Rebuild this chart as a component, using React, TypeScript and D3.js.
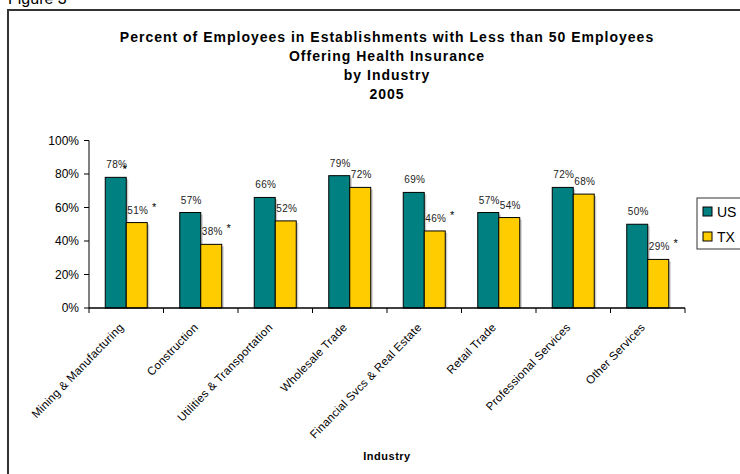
import React from "react";
import * as d3 from "d3";

const categories = [
  "Mining & Manufacturing",
  "Construction",
  "Utilities & Transportation",
  "Wholesale Trade",
  "Financial Svcs & Real Estate",
  "Retail Trade",
  "Professional Services",
  "Other Services",
];
const usValues = [78, 57, 66, 79, 69, 57, 72, 50];
const txValues = [51, 38, 52, 72, 46, 54, 68, 29];
const usStar = [true, false, false, false, false, false, false, false];
const txStar = [true, true, false, false, true, false, false, true];
const yTicks = [0, 20, 40, 60, 80, 100];
const titleLines = [
  "Percent of Employees in Establishments with Less than 50 Employees",
  "Offering Health Insurance",
  "by Industry",
  "2005",
];
const seriesNames = ["US", "TX"];
const colors = ["#008080", "#FFCC00"];

export default function App() {
  const W = 740, H = 474;
  const left = 89, right = 685, top = 140.5, bottom = 308;
  const x = d3.scaleBand<string>().domain(categories).range([left, right]).paddingInner(0).paddingOuter(0);
  const y = d3.scaleLinear().domain([0, 100]).range([bottom, top]);
  const bw = x.bandwidth();
  const barW = 21;
  const font = "'Liberation Sans', Arial, sans-serif";
  const series = [usValues, txValues];
  const stars = [usStar, txStar];

  return (
    <svg width={W} height={H} style={{ position: "fixed", left: 0, top: 0, background: "#fff" }} fontFamily={font}>
      <rect x={0} y={0} width={W} height={H} fill="#fff" />
      <text x={8} y={4} fontSize={16} fill="#000">Figure 3</text>
      <rect x={8} y={10} width={W} height={H} fill="none" stroke="#333" strokeWidth={2} />
      {titleLines.map((t, i) => (
        <text key={i} x={387} y={42 + i * 19} textAnchor="middle" fontSize={14} letterSpacing={1} fontWeight="bold" fill="#000">{t}</text>
      ))}
      {/* bars */}
      {categories.map((c, i) => {
        const cx = (x(c) as number) + bw / 2;
        return series.map((vals, s) => {
          const bx = cx - barW + s * barW;
          const v = vals[i];
          const by = y(v);
          return (
            <g key={c + s}>
              <rect x={bx + 2} y={by + 2} width={barW} height={bottom - by - 2} fill="#999" opacity={0.5} />
              <rect x={bx} y={by} width={barW} height={bottom - by} fill={colors[s]} stroke="#000" strokeWidth={1} />
              <text x={bx + barW / 2 + 1} y={by - 9} textAnchor="middle" fontSize={10} letterSpacing={0.3} fill="#222">{v}%</text>
              {stars[s][i] && (
                <text x={s === 0 ? bx + barW / 2 + 9 : bx + barW + 7} y={s === 0 ? by - 4 : by - 12} textAnchor="middle" fontSize={11} fill="#000">*</text>
              )}
            </g>
          );
        });
      })}
      {/* y axis */}
      <line x1={left} x2={left} y1={top} y2={bottom} stroke="#808080" strokeWidth={2} />
      {yTicks.map((t) => (
        <g key={t}>
          <line x1={left - 5} x2={left} y1={y(t)} y2={y(t)} stroke="#000" />
          <text x={left - 10} y={y(t) + 4} textAnchor="end" fontSize={12} fill="#000">{t}%</text>
        </g>
      ))}
      {/* x axis */}
      <line x1={left} x2={right} y1={bottom} y2={bottom} stroke="#000" strokeWidth={1.5} />
      {[...categories.map((c) => x(c) as number), right].map((px, i) => (
        <line key={i} x1={px} x2={px} y1={bottom} y2={bottom + 5} stroke="#000" />
      ))}
      {categories.map((c) => {
        const cx = (x(c) as number) + bw / 2;
        return (
          <text key={c} transform={`translate(${cx - 2},${bottom + 20}) rotate(-46)`} textAnchor="end" fontSize={11.5} letterSpacing={0.25} fill="#000">{c}</text>
        );
      })}
      <text x={387} y={460} textAnchor="middle" fontSize={11} letterSpacing={0.5} fontWeight="bold" fill="#000">Industry</text>
      {/* legend */}
      <rect x={697} y={198} width={60} height={51} fill="#fff" stroke="#333" strokeWidth={1} />
      {seriesNames.map((n, i) => (
        <g key={n}>
          <rect x={703} y={207 + i * 25} width={9} height={9} fill={colors[i]} stroke="#000" />
          <text x={717} y={217 + i * 25} fontSize={14} fill="#000">{n}</text>
        </g>
      ))}
    </svg>
  );
}
